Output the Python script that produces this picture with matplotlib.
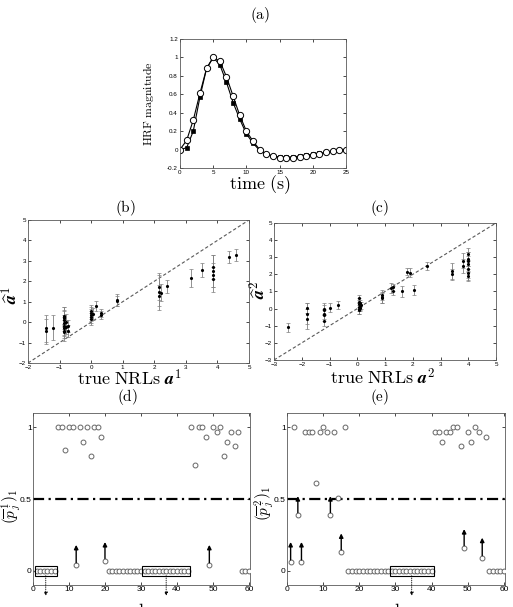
import matplotlib
matplotlib.use('Agg')
import matplotlib.pyplot as plt
from matplotlib.patches import Rectangle

plt.rcParams['font.family'] = ['Liberation Sans', 'DejaVu Sans']
plt.rcParams['mathtext.fontset'] = 'cm'
plt.rcParams['xtick.direction'] = 'in'
plt.rcParams['ytick.direction'] = 'in'
plt.rcParams['xtick.top'] = True
plt.rcParams['ytick.right'] = True

# (a) HRF estimates
time_s = list(range(26))
hrf_true = [0, 0.02, 0.20, 0.57, 0.88, 1.0, 0.92, 0.73, 0.51, 0.33, 0.17, 0.07, -0.01,
            -0.05, -0.07, -0.08, -0.08, -0.08, -0.07, -0.06, -0.05, -0.04, -0.03, -0.02, -0.01, 0.0]
hrf_est = [0, 0.10, 0.32, 0.61, 0.88, 1.0, 0.96, 0.79, 0.58, 0.37, 0.20, 0.09, 0.0,
           -0.05, -0.07, -0.09, -0.09, -0.09, -0.08, -0.07, -0.06, -0.05, -0.03, -0.02, -0.01, 0.0]

# (b) NRL estimates, condition 1
b_true = [-1.42, -1.42, -1.22, -0.85, -0.85, -0.85, -0.85, -0.85, -0.85, -0.85, -0.85, -0.85,
          -0.8, -0.8, -0.72, -0.72, 0.0, 0.0, 0.0, 0.0, 0.0, 0.05, 0.15, 0.3, 0.3, 0.82, 0.82,
          2.15, 2.15, 2.15, 2.22, 2.4, 3.15, 3.5, 3.87, 3.87, 3.87, 3.87, 4.37, 4.6]
b_est = [-0.45, -0.3, -0.27, 0.3, 0.2, 0.1, -0.05, -0.2, -0.3, -0.45, -0.5, 0.25,
         0.0, -0.25, -0.2, -0.45, 0.55, 0.45, 0.35, 0.25, 0.15, 0.4, 0.8, 0.35, 0.45, 1.1, 1.05,
         1.5, 1.3, 1.7, 1.45, 1.75, 2.15, 2.55, 2.5, 2.3, 2.7, 2.1, 3.2, 3.3]
b_err = [0.6, 0.65, 0.6, 0.45, 0.4, 0.45, 0.4, 0.45, 0.4, 0.35, 0.4, 0.5,
         0.4, 0.35, 0.3, 0.3, 0.3, 0.3, 0.3, 0.3, 0.3, 0.3, 0.25, 0.2, 0.2, 0.3, 0.25,
         0.9, 0.5, 0.6, 0.4, 0.3, 0.45, 0.35, 0.8, 0.6, 0.6, 0.6, 0.3, 0.3]

# (c) NRL estimates, condition 2
c_true = [-2.48, -1.8, -1.8, -1.8, -1.2, -1.2, -1.2, -1.2, -1.2, -1.0, -0.7,
          0.05, 0.05, 0.05, 0.05, 0.05, 0.05, 0.1, 0.1, 0.1, 0.15, 0.9, 0.9, 0.9,
          1.2, 1.3, 1.3, 1.6, 1.8, 1.9, 2.05, 2.5, 3.4, 3.4, 3.8, 3.8,
          4.0, 4.0, 4.0, 4.0, 4.0, 4.0, 4.0]
c_est = [-1.1, -0.6, -0.3, 0.05, -0.7, -0.4, -0.3, -0.1, 0.0, 0.05, 0.2,
         0.6, 0.4, 0.25, 0.1, 0.0, -0.1, 0.3, 0.15, 0.05, 0.2, 0.8, 0.6, 0.65,
         1.2, 1.05, 1.25, 1.0, 2.15, 2.1, 1.1, 2.5, 2.2, 2.0, 2.8, 2.5,
         3.2, 2.9, 2.6, 2.3, 2.1, 1.9, 2.8]
c_err = [0.25, 0.6, 0.6, 0.3, 0.3, 0.3, 0.3, 0.3, 0.3, 0.25, 0.25,
         0.2, 0.2, 0.25, 0.25, 0.3, 0.2, 0.2, 0.25, 0.2, 0.2, 0.3, 0.3, 0.3,
         0.3, 0.25, 0.2, 0.35, 0.2, 0.25, 0.3, 0.25, 0.45, 0.3, 0.45, 0.4,
         0.35, 0.4, 0.45, 0.5, 0.4, 0.3, 0.5]

# (d) posterior probabilities, condition 1
voxels = list(range(1, 61))
p1 = [0, 0, 0, 0, 0, 0, 1, 1, 0.84, 1, 1, 0.04, 1, 0.9, 1, 0.8, 1, 1, 0.93, 0.07,
      0, 0, 0, 0, 0, 0, 0, 0, 0, 0, 0, 0, 0, 0, 0, 0, 0, 0, 0, 0,
      0, 0, 0, 1, 0.74, 1, 1, 0.93, 0.04, 1, 0.97, 1, 0.8, 0.9, 0.97, 0.87, 0.97, 0, 0, 0]
p1_arrow_vox = [12, 20, 49]
p1_arrow_top = [0.18, 0.2, 0.18]
p1_boxes = [(0.5, 6.6), (30.3, 43.7)]

# (e) posterior probabilities, condition 2
p2 = [0.06, 1, 0.39, 0.06, 0.97, 0.97, 0.97, 0.61, 0.97, 1, 0.97, 0.39, 0.97, 0.51, 0.13, 1,
      0, 0, 0, 0, 0, 0, 0, 0, 0, 0, 0, 0, 0, 0, 0, 0, 0, 0, 0, 0, 0, 0, 0, 0,
      0.97, 0.97, 0.9, 0.97, 0.97, 1, 1, 0.87, 0.16, 0.97, 0.9, 1, 0.97, 0.09, 0.93,
      0, 0, 0, 0, 0]
p2_arrow_vox = [1, 3, 4, 12, 15, 49, 54]
p2_arrow_top = [0.2, 0.52, 0.2, 0.52, 0.26, 0.29, 0.23]
p2_boxes = [(28.4, 40.6)]

W, H = 513, 607
fig = plt.figure(figsize=(W / 100, H / 100), dpi=100)


def add_ax(l, t, r, b):
    return fig.add_axes([l / W, 1 - b / H, (r - l) / W, (b - t) / H])


def ftext(x, y, s, size, rot=0):
    fig.text(x / W, 1 - y / H, s, fontsize=size, ha='center', va='center', rotation=rot)


def style(ax, size, pad=1.5):
    ax.tick_params(labelsize=size, length=2.5, width=0.5, pad=pad)
    for sp in ax.spines.values():
        sp.set_linewidth(0.6)
        sp.set_color('0.35')


# (a)
ax = add_ax(180, 39, 346, 168)
ax.plot(time_s, hrf_true, '-', color='k', lw=0.8, marker='s', ms=3.5, mfc='k', mec='k', mew=0.5)
ax.plot(time_s, hrf_est, '-', color='k', lw=0.8, marker='o', ms=4.5, mfc='white', mec='k', mew=0.7)
ax.set_xlim(0, 25)
ax.set_ylim(-0.2, 1.2)
ax.set_xticks([0, 5, 10, 15, 20, 25])
ax.set_yticks([-0.2, 0, 0.2, 0.4, 0.6, 0.8, 1.0, 1.2])
ax.set_yticklabels(['-0.2', '0', '0.2', '0.4', '0.6', '0.8', '1', '1.2'])
style(ax, 4.5)
ftext(260, 15, r'$\mathrm{(a)}$', 11)
ftext(260, 185, r'$\mathrm{time\ (s)}$', 13)
ftext(148, 104, r'$\mathrm{HRF\ magnitude}$', 8.5, rot=90)


def nrl_panel(box, xs, ys, es, lo, title, tpos, xlab, xlpos, ylab, ylpos):
    ax = add_ax(*box)
    ax.plot([lo, 5], [lo, 5], '--', color='0.35', lw=0.8, dashes=(3, 2))
    ax.errorbar(xs, ys, yerr=es, fmt='.', color='k', ms=2.5, ecolor='0.5',
                elinewidth=0.6, capsize=1.2, capthick=0.5)
    ax.set_xlim(lo, 5)
    ax.set_ylim(lo, 5)
    ax.set_xticks(range(lo, 6))
    ax.set_yticks(range(lo, 6))
    style(ax, 4.5)
    ftext(tpos[0], tpos[1], title, 11)
    ftext(xlpos[0], xlpos[1], xlab, 13)
    ftext(ylpos[0], ylpos[1], ylab, 13, rot=90)


nrl_panel((28, 220, 249, 363), b_true, b_est, b_err, -2, r'$\mathrm{(b)}$', (125, 208),
          r'$\mathrm{true\ NRLs}\ \boldsymbol{a}^1$', (130, 379),
          r'$\widehat{\boldsymbol{a}}^1$', (11, 295))
nrl_panel((274, 223, 496, 360), c_true, c_est, c_err, -3, r'$\mathrm{(c)}$', (380, 208),
          r'$\mathrm{true\ NRLs}\ \boldsymbol{a}^2$', (383, 378),
          r'$\widehat{\boldsymbol{a}}^2$', (259, 290))


def prob_panel(box, ps, arrow_vox, arrow_top, boxes, title, tpos, xpos, ylab, ylpos):
    ax = add_ax(*box)
    ax.axhline(0.5, color='k', lw=1.6, ls=(0, (5, 2, 1, 2)))
    ax.plot(voxels, ps, 'o', ms=3.5, mfc='white', mec='0.4', mew=0.7, zorder=3)
    for v, top in zip(arrow_vox, arrow_top):
        ax.annotate('', xy=(v, top), xytext=(v, ps[v - 1] + 0.015),
                    arrowprops=dict(arrowstyle='-|>', color='k', lw=1.0,
                                    mutation_scale=6, shrinkA=0, shrinkB=0))
    for x0, x1 in boxes:
        ax.add_patch(Rectangle((x0, -0.035), x1 - x0, 0.07, fill=False, ec='k', lw=0.8, zorder=4))
        xc = (x0 + x1) / 2
        ax.annotate('', xy=(xc, -0.175), xytext=(xc, -0.035), annotation_clip=False,
                    arrowprops=dict(arrowstyle='-|>', color='k', lw=0.6, ls=':',
                                    mutation_scale=5, shrinkA=0, shrinkB=0))
    ax.set_xlim(0, 60.3)
    ax.set_ylim(-0.1, 1.1)
    ax.set_xticks([0, 10, 20, 30, 40, 50, 60])
    ax.set_yticks([0, 0.5, 1])
    ax.set_yticklabels(['0', '0.5', '1'])
    style(ax, 6, pad=1)
    ftext(tpos[0], tpos[1], title, 11)
    ftext(xpos, 611, r'$\mathrm{voxels}$', 13)
    ftext(ylpos[0], ylpos[1], ylab, 11, rot=90)


prob_panel((33, 413, 250, 585), p1, p1_arrow_vox, p1_arrow_top, p1_boxes,
           r'$\mathrm{(d)}$', (127, 397), 127, r'$(\overline{p}_j^{\,1})_1$', (11, 506))
prob_panel((287, 413, 505, 585), p2, p2_arrow_vox, p2_arrow_top, p2_boxes,
           r'$\mathrm{(e)}$', (380, 397), 383, r'$(\overline{p}_j^{\,2})_1$', (264, 503))

fig.savefig('out.png', dpi=100)
